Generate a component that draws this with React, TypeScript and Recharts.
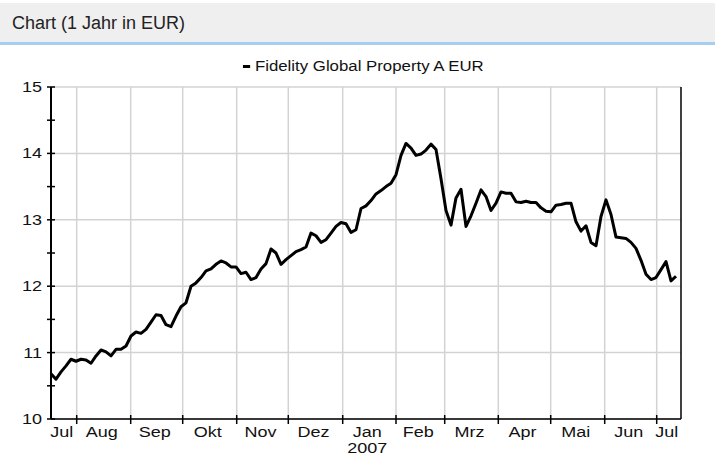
import React from 'react';
import { LineChart, Line, XAxis, YAxis, ReferenceLine } from 'recharts';

// Fund price, one sample per ~2 trading days (Jul 2006 - Jul 2007)
const prices = [
  10.68, 10.6, 10.71, 10.8, 10.9, 10.87, 10.9, 10.89, 10.84, 10.95,
  11.04, 11.01, 10.95, 11.05, 11.05, 11.1, 11.25, 11.31, 11.29, 11.35,
  11.46, 11.57, 11.56, 11.42, 11.39, 11.55, 11.69, 11.75, 12.0, 12.05,
  12.13, 12.23, 12.26, 12.33, 12.38, 12.35, 12.29, 12.29, 12.19, 12.21,
  12.1, 12.13, 12.26, 12.34, 12.56, 12.5, 12.33, 12.4, 12.46, 12.52,
  12.55, 12.59, 12.8, 12.76, 12.66, 12.7, 12.8, 12.9, 12.96, 12.94,
  12.81, 12.85, 13.17, 13.21, 13.29, 13.39, 13.44, 13.5, 13.55, 13.68,
  13.97, 14.15, 14.08, 13.97, 13.99, 14.05, 14.14, 14.06, 13.62, 13.14,
  12.92, 13.33, 13.46, 12.9, 13.06, 13.25, 13.45, 13.35, 13.14, 13.25,
  13.42, 13.4, 13.4, 13.27, 13.26, 13.28, 13.26, 13.26, 13.18, 13.13,
  13.12, 13.22, 13.23, 13.25, 13.25, 12.97, 12.83, 12.91, 12.66, 12.61,
  13.05, 13.3, 13.08, 12.74, 12.73, 12.72, 12.66, 12.57, 12.39, 12.18,
  12.1, 12.13, 12.25, 12.37, 12.08, 12.15,
];
const domainEnd = 126;
// month boundaries (sample index)
const monthStarts = [5.14, 15.94, 26.34, 37.14, 47.46, 58.34, 69.0, 78.74, 89.46, 99.94, 110.74, 121.14];
const monthLabels = ['Jul', 'Aug', 'Sep', 'Okt', 'Nov', 'Dez', 'Jan', 'Feb', 'Mrz', 'Apr', 'Mai', 'Jun', 'Jul'];
const yearLabels = ['', '', '', '', '', '', '2007', '', '', '', '', '', ''];
const yTicks = [10, 10.5, 11, 11.5, 12, 12.5, 13, 13.5, 14, 14.5, 15];
const yGrid = [10, 11, 12, 13, 14, 15];
const seriesName = 'Fidelity Global Property A EUR';
const title = 'Chart (1 Jahr in EUR)';

const data = prices.map((v, i) => ({ i, v }));
const bounds = [0, ...monthStarts, domainEnd];
const labelPos = monthLabels.map((_, k) => (bounds[k] + bounds[k + 1]) / 2);
const xTicks = [...monthStarts, ...labelPos];

const FONT = '"Liberation Sans", Arial, sans-serif';

const XTick = (props: any) => {
  const { x, y, payload } = props;
  const val = payload.value;
  const bi = monthStarts.indexOf(val);
  if (bi >= 0) {
    return <line x1={x} x2={x} y1={y - 4} y2={y + 5} stroke="#000" strokeWidth={1.5} />;
  }
  const li = labelPos.indexOf(val);
  if (li < 0) return null;
  return (
    <g transform={`translate(${x - 2},${y})`}>
      <g transform="scale(1.2,1)">
        <text x={0} y={18.5} textAnchor="middle" fontSize={15} fontFamily={FONT} fill="#111">
          {monthLabels[li]}
        </text>
        {yearLabels[li] ? (
          <text x={0} y={34.5} textAnchor="middle" fontSize={15} fontFamily={FONT} fill="#111">
            {yearLabels[li]}
          </text>
        ) : null}
      </g>
    </g>
  );
};

const YTick = (props: any) => {
  const { x, y, payload } = props;
  const val = payload.value;
  const isInt = Number.isInteger(val);
  return (
    <g>
      <line x1={x - 4} x2={x + 4} y1={y} y2={y} stroke="#000" strokeWidth={1.5} />
      {isInt ? (
        <g transform={`translate(${x - 9},${y})`}>
          <g transform="scale(1.2,1)">
            <text x={0} y={5} textAnchor="end" fontSize={15} fontFamily={FONT} fill="#111">
              {val}
            </text>
          </g>
        </g>
      ) : null}
    </g>
  );
};

export default function App() {
  return (
    <div style={{ position: 'absolute', left: 0, top: 0, width: 715, height: 460, background: '#fff', overflow: 'hidden' }}>
      <div
        style={{
          position: 'absolute', left: 0, top: 3, width: 715, height: 39,
          background: '#efefef', borderBottom: '3px solid #a6cdf2',
        }}
      >
        <div style={{ position: 'absolute', left: 12, top: 10, fontFamily: FONT, fontSize: 18, color: '#222', lineHeight: '20px', whiteSpace: 'nowrap' }}>
          {title}
        </div>
      </div>
      <div
        style={{
          position: 'absolute', left: 0, top: 57, width: 726, textAlign: 'center',
          fontFamily: FONT, fontSize: 14, color: '#111', lineHeight: '18px', whiteSpace: 'nowrap',
        }}
      >
        <span style={{ display: 'inline-block', transform: 'scaleX(1.2)' }}>
          <span style={{ display: 'inline-block', width: 6, height: 3, background: '#000', verticalAlign: 'middle', marginRight: 4, marginTop: -2 }} />
          {seriesName}
        </span>
      </div>
      <div style={{ position: 'absolute', left: 0, top: 0 }}>
        <LineChart width={715} height={460} data={data} margin={{ top: 87, right: 34, bottom: 11, left: 6 }}>
          {yGrid.map((g) => (
            <ReferenceLine key={'h' + g} y={g} stroke="#d3d3d3" strokeWidth={1.5} zIndex={-100} ifOverflow="extendDomain" />
          ))}
          {monthStarts.map((m) => (
            <ReferenceLine key={'v' + m} x={m} stroke="#d3d3d3" strokeWidth={1.5} zIndex={-100} />
          ))}
          <ReferenceLine x={domainEnd} stroke="#000" strokeWidth={1.5} />
          <XAxis
            dataKey="i"
            type="number"
            domain={[0, domainEnd]}
            ticks={xTicks}
            interval={0}
            tickSize={0}
            tickMargin={0}
            tickLine={false}
            tick={<XTick />}
            axisLine={{ stroke: '#000', strokeWidth: 1.5 }}
            height={30}
            allowDataOverflow
          />
          <YAxis
            type="number"
            domain={[10, 15]}
            ticks={yTicks}
            interval={0}
            tickSize={0}
            tickMargin={0}
            tickLine={false}
            tick={<YTick />}
            axisLine={{ stroke: '#000', strokeWidth: 2 }}
            width={45}
            allowDataOverflow
          />
          <Line
            dataKey="v"
            type="linear"
            stroke="#000"
            strokeWidth={3}
            dot={false}
            activeDot={false}
            isAnimationActive={false}
            strokeLinejoin="round"
          />
        </LineChart>
      </div>
    </div>
  );
}
